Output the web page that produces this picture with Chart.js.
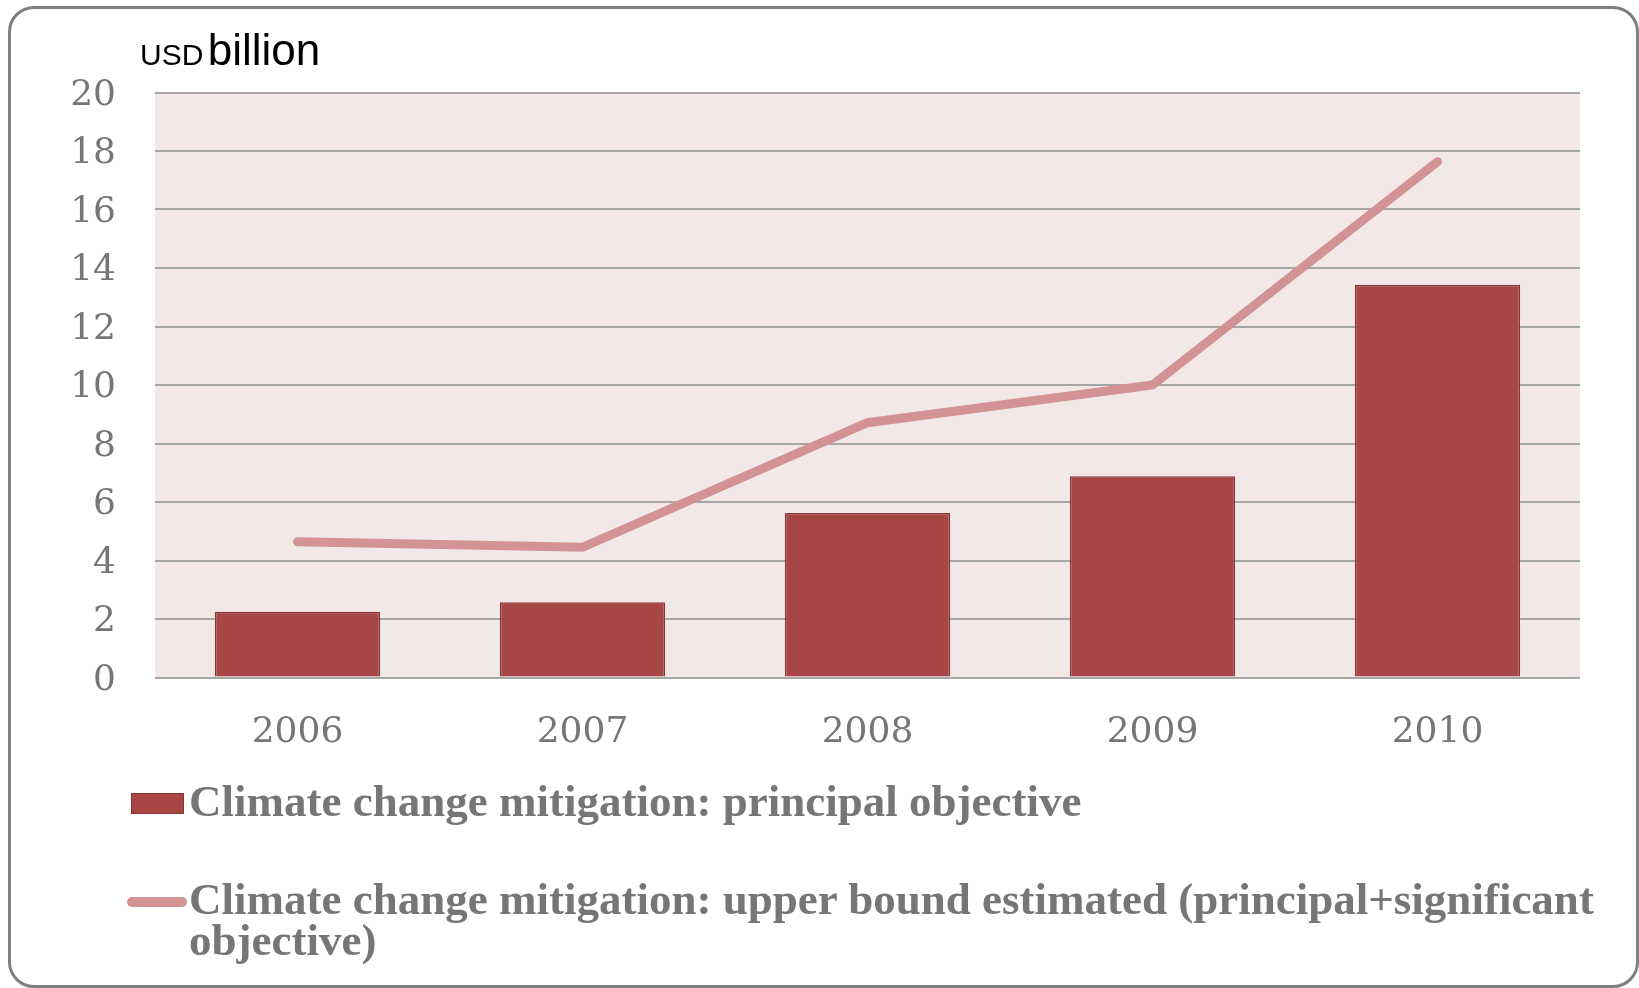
<!DOCTYPE html>
<html>
<head>
<meta charset="utf-8">
<script src="https://cdn.jsdelivr.net/npm/chart.js@4/dist/chart.umd.min.js"></script>
<style>
  html, body { margin: 0; padding: 0; background: #ffffff; }
  body { width: 1639px; height: 988px; position: relative; overflow: hidden; }
  #frame { position: absolute; left: 8px; top: 6px; width: 1631px; height: 982px; box-sizing: border-box;
           border: 3px solid #7f7f7f; border-radius: 26px; pointer-events: none; z-index: 5; }
  #wrap { position: absolute; left: 0; top: 0; width: 1639px; height: 760px; }
  #unit { position: absolute; left: 140px; top: 25px; font-family: "Liberation Sans", Arial, sans-serif; color: #000; white-space: nowrap; }
  #unit .small { font-size: 30px; }
  #unit .big { font-size: 44px; }
  #legend { position: absolute; left: 0; top: 0; width: 1639px; height: 988px; pointer-events: none; }
  .lg-text { position: absolute; left: 189px; width: 1440px; font-family: "Liberation Serif", "Times New Roman", serif;
             font-weight: bold; font-size: 45px; line-height: 41px; color: #767676; }
  .sw-bar { position: absolute; left: 131px; width: 53px; height: 21px; box-sizing: border-box; }
  .sw-line { position: absolute; left: 127px; width: 60px; height: 10px; border-radius: 5px; }
</style>
</head>
<body>
<div id="wrap"><canvas id="c"></canvas></div>
<div id="unit"><span class="small">USD</span> <span class="big">billion</span></div>
<div id="legend"></div>
<div id="frame"></div>
<script>
const years = ['2006', '2007', '2008', '2009', '2010'];
const principalObjective = [2.25, 2.57, 5.62, 6.88, 13.43];
const upperBoundEstimate = [4.64, 4.45, 8.71, 10.0, 17.63];
const yTicks = [0, 2, 4, 6, 8, 10, 12, 14, 16, 18, 20];
const seriesLabels = [
  'Climate change mitigation: principal objective',
  'Climate change mitigation: upper bound estimated (principal+significant objective)'
];

const plotBg = {
  id: 'plotBg',
  beforeDraw(chart) {
    const { ctx, chartArea: a } = chart;
    ctx.save();
    ctx.fillStyle = '#F2E8E8';
    ctx.fillRect(a.left, a.top, a.right - a.left, a.bottom - a.top);
    ctx.restore();
  }
};

const tickFont = { family: '"DejaVu Serif", Georgia, serif', size: 36 };

const chart = new Chart(document.getElementById('c'), {
  data: {
    labels: years,
    datasets: [
      {
        type: 'bar',
        label: seriesLabels[0],
        data: principalObjective,
        backgroundColor: '#A84646',
        borderColor: '#8A3434',
        borderWidth: 1.5,
        barPercentage: 0.58,
        categoryPercentage: 1.0,
        order: 1
      },
      {
        type: 'line',
        label: seriesLabels[1],
        data: upperBoundEstimate,
        borderColor: '#D39394',
        backgroundColor: '#D39394',
        borderWidth: 9,
        borderCapStyle: 'round',
        borderJoinStyle: 'miter',
        pointRadius: 0,
        tension: 0,
        fill: false,
        order: 0
      }
    ]
  },
  options: {
    responsive: true,
    maintainAspectRatio: false,
    animation: false,
    layout: { padding: { left: 0, right: 59, top: 92.5, bottom: 0 } },
    plugins: {
      legend: { display: false },
      tooltip: { enabled: false },
      title: { display: false }
    },
    scales: {
      x: {
        grid: { display: false },
        border: { display: false },
        ticks: { color: '#767676', font: tickFont, padding: 26, maxRotation: 0 },
        afterFit(s) { s.height = 82.5; }
      },
      y: {
        min: 0,
        max: 20,
        afterBuildTicks(s) { s.ticks = yTicks.map(v => ({ value: v })); },
        grid: { color: '#A6A6A6', lineWidth: 2, drawTicks: false },
        border: { display: false },
        ticks: { color: '#767676', font: tickFont, padding: 39, labelOffset: 3 },
        afterFit(s) { s.width = 155; }
      }
    }
  },
  plugins: [plotBg]
});

// HTML legend built from the chart's datasets
(function buildLegend() {
  const lg = document.getElementById('legend');
  const tops = [781, 878.5];
  const swatchTops = [793, 897];
  chart.data.datasets.forEach((ds, i) => {
    const sw = document.createElement('div');
    if (ds.type === 'bar') {
      sw.className = 'sw-bar';
      sw.style.background = ds.backgroundColor;
      sw.style.border = '1.5px solid ' + ds.borderColor;
    } else {
      sw.className = 'sw-line';
      sw.style.background = ds.borderColor;
    }
    sw.style.top = swatchTops[i] + 'px';
    lg.appendChild(sw);
    const t = document.createElement('div');
    t.className = 'lg-text';
    t.style.top = tops[i] + 'px';
    t.textContent = ds.label;
    lg.appendChild(t);
  });
})();
</script>
</body>
</html>
